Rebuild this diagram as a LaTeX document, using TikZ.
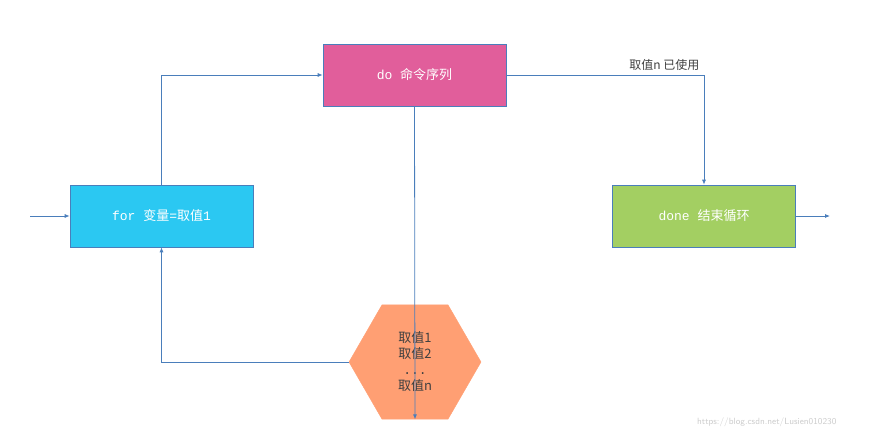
\documentclass[tikz,border=0pt]{standalone}
\usepackage{fontspec}
\setmainfont{Liberation Mono}
\newfontfamily\cjk{Noto Sans CJK SC}
\usetikzlibrary{shapes.geometric,arrows.meta}
\definecolor{cyanb}{HTML}{2BC8F2}
\definecolor{pinkb}{HTML}{E15E9B}
\definecolor{greenb}{HTML}{A3CF62}
\definecolor{orangeb}{HTML}{FF9F73}
\definecolor{edgeb}{HTML}{4A7EBB}
\definecolor{txt}{HTML}{404040}
\begin{document}
\begin{tikzpicture}[x=1pt,y=-1pt,
  boxst/.style={draw=edgeb,line width=0.6pt,minimum width=183pt,minimum height=62pt,inner sep=0pt,text=white,font=\fontsize{13}{15}\selectfont},
  conn/.style={draw=edgeb,line width=0.8pt,-{Latex[length=5pt,width=4pt]}}]
\useasboundingbox (0,0) rectangle (881,426);
\node[boxst,fill=cyanb] (for) at (161.5,216) {for {\cjk 变量}={\cjk 取值}1};
\node[boxst,fill=pinkb] (do) at (414.5,75) {do {\cjk 命令序列}};
\node[boxst,fill=greenb] (done) at (704,216) {done {\cjk 结束循环}};
\node[regular polygon,regular polygon sides=6,fill=orangeb,draw=orangeb,minimum size=132pt,inner sep=0pt,yscale=-1,text=txt,align=center,font=\cjk\fontsize{13}{16}\selectfont] (hex) at (415,362) {};
\node[text=txt,align=center,font=\cjk\fontsize{13}{16}\selectfont] at (415,362) {取值1\\取值2\\{\rmfamily ...}\\取值n};
\coordinate (in) at (30,216);
\coordinate (out) at (830,216);
\draw[conn] (in) -- (for.west);
\draw[conn] (for.north) |- (do.west);
\draw[conn] (do.south) -- (hex.north);
\draw[conn] (hex.west) -| (for.south);
\draw[conn] (do.east) -| node[pos=0.4,above,text=txt,font=\cjk\fontsize{12}{14}\selectfont,yshift=1pt] {取值n 已使用} (done.north);
\draw[conn] (done.east) -- (out);
\node[text=gray!40,font=\sffamily\fontsize{9}{10}\selectfont,anchor=east] at (840,422) {https://blog.csdn.net/Lusien010230};
\end{tikzpicture}
\end{document}
